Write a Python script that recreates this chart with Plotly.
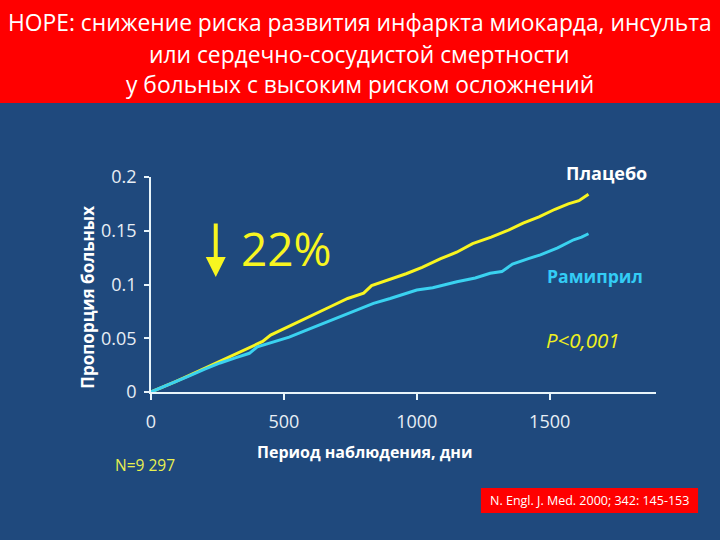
import plotly.graph_objects as go

# ---- data ----
placebo_days = [0, 40, 90, 140, 200, 260, 320, 380, 420, 450, 500, 560, 620, 680, 740, 800, 830,
                880, 960, 1020, 1090, 1150, 1210, 1280, 1340, 1400, 1460, 1520, 1570, 1610, 1646]
placebo_vals = [0, 0.004, 0.0095, 0.015, 0.022, 0.029, 0.0355, 0.0425, 0.047, 0.053, 0.059, 0.066,
                0.073, 0.080, 0.087, 0.092, 0.099, 0.103, 0.110, 0.116, 0.124, 0.130, 0.138, 0.144,
                0.150, 0.157, 0.163, 0.170, 0.175, 0.178, 0.184]
ramipril_days = [0, 40, 90, 140, 200, 260, 320, 370, 400, 450, 520, 585, 650, 711, 770, 837, 900,
                 1000, 1060, 1151, 1220, 1276, 1320, 1360, 1420, 1465, 1530, 1590, 1620, 1646]
ramipril_vals = [0, 0.004, 0.0095, 0.0145, 0.021, 0.027, 0.032, 0.036, 0.042, 0.046, 0.051, 0.0575,
                 0.064, 0.070, 0.076, 0.0824, 0.087, 0.0949, 0.097, 0.1026, 0.106, 0.1105, 0.112,
                 0.119, 0.124, 0.1276, 0.134, 0.1416, 0.144, 0.1472]
x_ticks = [0, 500, 1000, 1500]
y_ticks = [0, 0.05, 0.1, 0.15, 0.2]
y_tick_labels = ["0", "0.05", "0.1", "0.15", "0.2"]

BG = "#1F497D"
FONT = "Open Sans"

fig = go.Figure()
fig.add_trace(go.Scatter(x=placebo_days, y=placebo_vals, mode="lines", name="Плацебо",
                         line=dict(color="#F8F520", width=3)))
fig.add_trace(go.Scatter(x=ramipril_days, y=ramipril_vals, mode="lines", name="Рамиприл",
                         line=dict(color="#3AD2F0", width=3)))

fig.update_layout(
    width=720, height=540,
    paper_bgcolor=BG, plot_bgcolor=BG,
    margin=dict(l=151, r=64, t=177, b=148),
    showlegend=False,
    font=dict(family=FONT, color="#E8EEF5"),
)
fig.update_xaxes(range=[0, 1900], tickvals=x_ticks, showgrid=False, zeroline=False,
                 showline=True, linecolor="#E8F4FA", linewidth=1.5,
                 ticks="outside", ticklen=6, tickcolor="#E8F4FA", tickwidth=1.5,
                 tickfont=dict(size=18, family=FONT, color="#E8EEF5"), ticklabelstandoff=7)
fig.update_yaxes(range=[0, 0.2], tickvals=y_ticks, ticktext=y_tick_labels, showgrid=False,
                 zeroline=False, showline=True, linecolor="#E8F4FA", linewidth=1.5,
                 ticks="outside", ticklen=5, tickcolor="#E8F4FA", tickwidth=1.5,
                 tickfont=dict(size=18, family=FONT, color="#E8EEF5"), ticklabelstandoff=4)

# banner and citation box
fig.add_shape(type="rect", xref="paper", yref="paper", x0=-0.31, x1=1.14, y0=1.344, y1=1.9,
              fillcolor="#FF0000", line=dict(width=0), layer="below")
fig.add_shape(type="rect", xref="paper", yref="paper", x0=0.6533, x1=1.0833, y0=-0.5628, y1=-0.4465,
              fillcolor="#FF0000", line=dict(width=0))

def ann(text, x, y, size, color="white", bold=False, italic=False, **kw):
    if bold:
        text = "<b>" + text + "</b>"
    if italic:
        text = "<i>" + text + "</i>"
    fig.add_annotation(text=text, x=x, y=y, xref="paper", yref="paper", showarrow=False,
                       font=dict(size=size, color=color, family=FONT),
                       xanchor="center", yanchor="middle", **kw)

ann("HOPE: снижение риска развития инфаркта миокарда, инсульта", 0.4135, (392 - 22) / 215, 22.8)
ann("или сердечно-сосудистой смертности", 0.4135, (392 - 54) / 215, 22.8)
ann("у больных с высоким риском осложнений", 0.4135, (392 - 85) / 215, 22.8)

ann("Плацебо", 0.901, 1.0186, 18, "white", bold=True)
ann("Рамиприл", 0.879, 0.5395, 17.6, "#33CCF5", bold=True)
ann("P<0,001", 0.855, 0.242, 20.5, "#F0F020", italic=True)
ann("22%", 0.2687, 0.67, 46, "#F8F520")
ann("N=9 297", -0.0125, -0.3395, 15.5, "#E8F050")
ann("Период наблюдения, дни", 0.4232, -0.279, 16, "white", bold=True)
ann("Пропорция больных", -0.1254, 0.4419, 17, "white", bold=True, textangle=-90)
ann("N. Engl. J. Med. 2000; 342: 145-153", 0.8684, -0.5047, 12.5, "white")

# down arrow
fig.add_annotation(x=0.1282, y=0.535, xref="paper", yref="paper", ax=0, ay=-55,
                   showarrow=True, arrowhead=2, arrowsize=1, arrowwidth=4,
                   arrowcolor="#F8F520", text="")

fig.write_html("out.html", config={"displayModeBar": False},
               post_script="document.body.style.margin='0';")
